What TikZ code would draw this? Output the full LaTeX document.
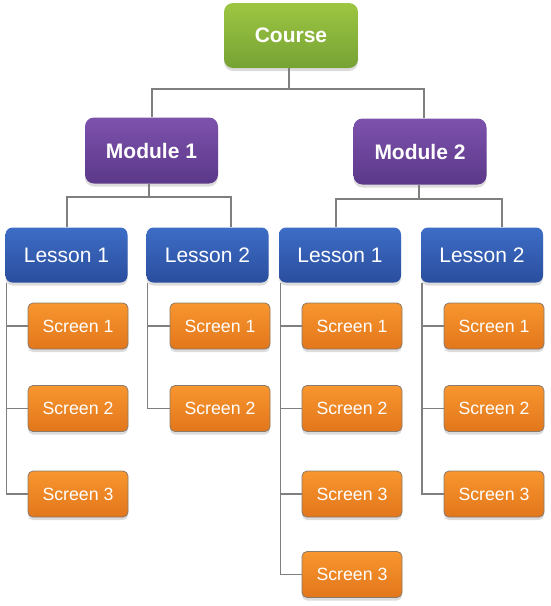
\documentclass[tikz,border=0pt]{standalone}
\usepackage{fontspec}
\setmainfont{Liberation Sans}
\usetikzlibrary{shadows}
\definecolor{linegray}{HTML}{7F7F7F}
\definecolor{gtop}{HTML}{9DC642}
\definecolor{gbot}{HTML}{76A234}
\definecolor{ptop}{HTML}{7D52AD}
\definecolor{pbot}{HTML}{5B3889}
\definecolor{btop}{HTML}{3D6DC6}
\definecolor{bbot}{HTML}{2A4E9E}
\definecolor{otop}{HTML}{F8962F}
\definecolor{obot}{HTML}{E2761B}
\definecolor{oborder}{HTML}{8A7A6A}
\tikzset{
  box/.style={rounded corners=7pt, text=white, inner sep=0pt, align=center,
    drop shadow={opacity=0.28, shadow xshift=0pt, shadow yshift=-3pt}},
  coursebox/.style={box, minimum width=134pt, minimum height=65pt, top color=gtop, bottom color=gbot,
    font=\fontsize{21}{24}\selectfont\bfseries, rounded corners=9pt},
  modbox/.style={box, minimum width=133pt, minimum height=66pt, top color=ptop, bottom color=pbot,
    font=\fontsize{21}{24}\selectfont\bfseries, rounded corners=9pt},
  lesbox/.style={box, minimum width=122pt, minimum height=55pt, top color=btop, bottom color=bbot,
    font=\fontsize{21}{24}\selectfont},
  scrbox/.style={box, minimum width=100pt, minimum height=46pt, top color=otop, bottom color=obot,
    draw=oborder, line width=0.8pt, font=\fontsize{17.7}{20}\selectfont, rounded corners=5pt},
  conn/.style={draw=linegray, line width=1.5pt}
}
\begin{document}
\begin{tikzpicture}[x=1pt,y=-1pt]
\useasboundingbox (0,0) rectangle (550,606);
% connectors first (behind)
\coordinate (cbar) at (0,89);
\coordinate (m1bar) at (0,197);
\coordinate (m2bar) at (0,199);

\node[coursebox] (course) at (291,35.5) {Course};
\node[modbox] (m1) at (151.5,150.5) {Module 1};
\node[modbox] (m2) at (420,151.5) {Module 2};

\node[lesbox] (l1) at (66.5,255) {Lesson 1};
\node[lesbox] (l2) at (207.5,255) {Lesson 2};
\node[lesbox] (l3) at (340,255) {Lesson 1};
\node[lesbox] (l4) at (482,255) {Lesson 2};

\node[scrbox] (s11) at (78,326) {Screen 1};
\node[scrbox] (s12) at (78,408.5) {Screen 2};
\node[scrbox] (s13) at (78,494) {Screen 3};

\node[scrbox] (s21) at (220,326) {Screen 1};
\node[scrbox] (s22) at (220,408.5) {Screen 2};

\node[scrbox] (s31) at (352,326) {Screen 1};
\node[scrbox] (s32) at (352,408.5) {Screen 2};
\node[scrbox] (s33) at (352,494) {Screen 3};
\node[scrbox] (s34) at (352,574.5) {Screen 3};

\node[scrbox] (s41) at (494,326) {Screen 1};
\node[scrbox] (s42) at (494,408.5) {Screen 2};
\node[scrbox] (s43) at (494,494) {Screen 3};

\begin{scope}[on background layer/.try]
\end{scope}

% course to modules
\draw[conn] ([xshift=-2pt]course.south) -- ([xshift=-2pt]course.south |- cbar) coordinate (cb);
\draw[conn] ([xshift=0.5pt]m1.north) |- (cb) -| ([xshift=4pt]m2.north);
% modules to lessons
\draw[conn] ([xshift=-2.5pt]m1.south) -- ([xshift=-2.5pt]m1.south |- m1bar) coordinate (mb1);
\draw[conn] ([xshift=0.5pt]l1.north) |- (mb1) -| ([xshift=23.5pt]l2.north);
\draw[conn] ([xshift=-1pt]m2.south) -- ([xshift=-1pt]m2.south |- m2bar) coordinate (mb2);
\draw[conn] ([xshift=-4pt]l3.north) |- (mb2) -| ([xshift=20pt]l4.north);
% lessons to screens
\draw[conn] ([xshift=1pt]l1.south west) |- (s13.west);
\draw[conn] ([xshift=1pt]l1.south west |- s11.west) -- (s11.west);
\draw[conn] ([xshift=1pt]l1.south west |- s12.west) -- (s12.west);

\draw[conn] ([xshift=1pt]l2.south west) |- (s22.west);
\draw[conn] ([xshift=1pt]l2.south west |- s21.west) -- (s21.west);

\draw[conn] ([xshift=1.5pt]l3.south west) |- (s34.west);
\draw[conn] ([xshift=1.5pt]l3.south west |- s31.west) -- (s31.west);
\draw[conn] ([xshift=1.5pt]l3.south west |- s32.west) -- (s32.west);
\draw[conn] ([xshift=1.5pt]l3.south west |- s33.west) -- (s33.west);

\draw[conn] ([xshift=1pt]l4.south west) |- (s43.west);
\draw[conn] ([xshift=1pt]l4.south west |- s41.west) -- (s41.west);
\draw[conn] ([xshift=1pt]l4.south west |- s42.west) -- (s42.west);
\end{tikzpicture}
\end{document}
